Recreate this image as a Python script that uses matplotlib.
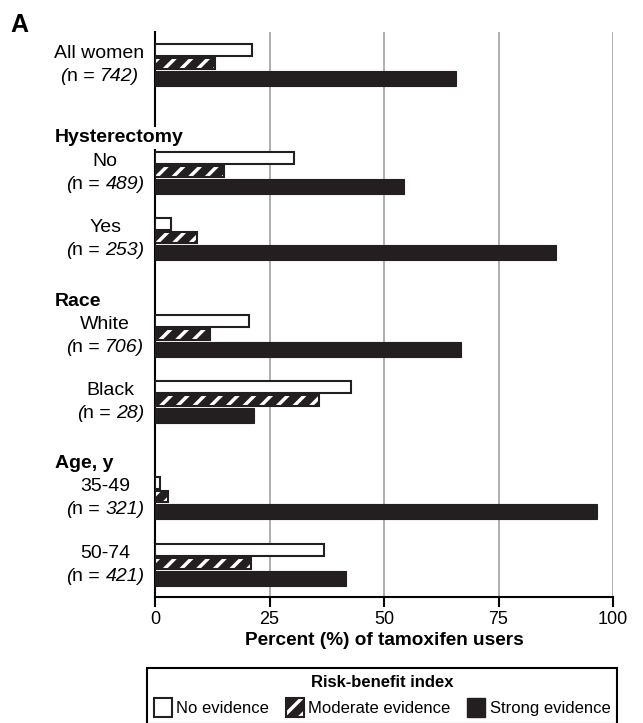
import numpy as np
import matplotlib
matplotlib.use('Agg')
import matplotlib.pyplot as plt
import matplotlib.patches as mpatches
from matplotlib.offsetbox import TextArea, HPacker, VPacker, AnnotationBbox

plt.rcParams['font.family'] = ['Liberation Sans', 'DejaVu Sans']
plt.rcParams['hatch.linewidth'] = 2.5

# data
categories = ['All women', 'No', 'Yes', 'White', 'Black', '35-49', '50-74']
n_women = [742, 489, 253, 706, 28, 321, 421]
headers = [None, 'Hysterectomy', None, 'Race', None, 'Age, y', None]
no_evidence = [21.1, 30.3, 3.5, 20.5, 42.9, 1.2, 36.9]
moderate_evidence = [13.1, 15.1, 9.1, 12.0, 35.8, 2.8, 20.9]
strong_evidence = [65.7, 54.4, 87.5, 66.8, 21.6, 96.4, 41.8]

dark = '#231f20'
grid_col = '#a7a9ac'

# layout (pixel-ish units down from top of the axes)
row_gaps = [32, 108, 66, 97, 66, 96, 67]
ypos = np.cumsum(row_gaps)

fig = plt.figure(figsize=(6.43, 7.23), dpi=100)
ax = fig.add_axes([155/643, 1-597/723, 458/643, 565/723])

ax.barh(ypos - 14, no_evidence, height=12, color='white', edgecolor=dark, linewidth=1.5, zorder=3)
ax.barh(ypos - 0.5, moderate_evidence, height=11, color=dark, edgecolor='white', hatch='//', linewidth=0, zorder=3)
ax.barh(ypos - 0.5, moderate_evidence, height=11, fill=False, edgecolor=dark, linewidth=1.5, zorder=3)
ax.barh(ypos + 14.5, strong_evidence, height=15, color=dark, edgecolor=dark, linewidth=0.8, zorder=3)

ax.set_xlim(0, 100)
ax.set_ylim(565, 0)
ax.set_xticks([0, 25, 50, 75, 100])
ax.xaxis.grid(True, color=grid_col, linewidth=1.3)
ax.set_axisbelow(True)
for s in ['top', 'right']:
    ax.spines[s].set_visible(False)
for s in ['left', 'bottom']:
    ax.spines[s].set_linewidth(1.5)
    ax.spines[s].set_color('black')
ax.tick_params(axis='x', length=7, width=1.5, labelsize=13, pad=3)
ax.set_yticks([])
ax.tick_params(axis='y', length=0)

# category labels: name on top, "(n = N)" with the brackets/number in italics
fs = 14
for cat, n, y in zip(categories, n_women, ypos):
    reg = {'fontsize': fs, 'color': 'black'}
    ita = {'fontsize': fs, 'color': 'black', 'fontstyle': 'italic'}
    first = HPacker(children=[TextArea('(', textprops=ita), TextArea('n =', textprops=reg)],
                    pad=0, sep=0, align='baseline')
    line2 = HPacker(children=[first, TextArea(str(n) + ')', textprops=ita)],
                    pad=0, sep=3.8, align='baseline')
    block = VPacker(children=[TextArea(cat, textprops=reg), line2], pad=0, sep=5, align='center')
    ab = AnnotationBbox(block, (0, y + 1), xycoords=ax.get_yaxis_transform(),
                        xybox=(-7.5, 0), boxcoords='offset points',
                        box_alignment=(1, 0.5), frameon=False, pad=0, annotation_clip=False)
    ax.add_artist(ab)

for h, y in zip(headers, ypos):
    if h:
        ax.text(-100/458, y - 34, h, transform=ax.get_yaxis_transform(), ha='left', va='center',
                fontsize=14, fontweight='bold', zorder=2.8,
                bbox=dict(facecolor='white', edgecolor='none', pad=2))

ax.set_xlabel('Percent (%) of tamoxifen users', fontsize=13.7, fontweight='bold', labelpad=3)

fig.text(10/643, 1-25/723, 'A', fontsize=18, fontweight='bold', ha='left', va='center')

h_none = mpatches.Patch(facecolor='white', edgecolor=dark, linewidth=1.5)
h_mod = (mpatches.Patch(facecolor=dark, edgecolor='white', hatch='//', linewidth=0),
         mpatches.Patch(fill=False, edgecolor=dark, linewidth=1.5))
h_strong = mpatches.Patch(facecolor=dark, edgecolor=dark, linewidth=1)
leg = fig.legend([h_none, h_mod, h_strong], ['No evidence', 'Moderate evidence', 'Strong evidence'],
                 title='Risk-benefit index', ncol=3, loc='upper center',
                 bbox_to_anchor=(0.594, 1-668/723), fontsize=12,
                 title_fontproperties={'weight': 'bold', 'size': 12},
                 fancybox=False, edgecolor='black', framealpha=1, borderaxespad=0,
                 handlelength=1.1, handleheight=1.4, handletextpad=0.25, columnspacing=1.0,
                 borderpad=0.4)
leg.get_frame().set_linewidth(1.5)

fig.savefig('out.png', dpi=100)
